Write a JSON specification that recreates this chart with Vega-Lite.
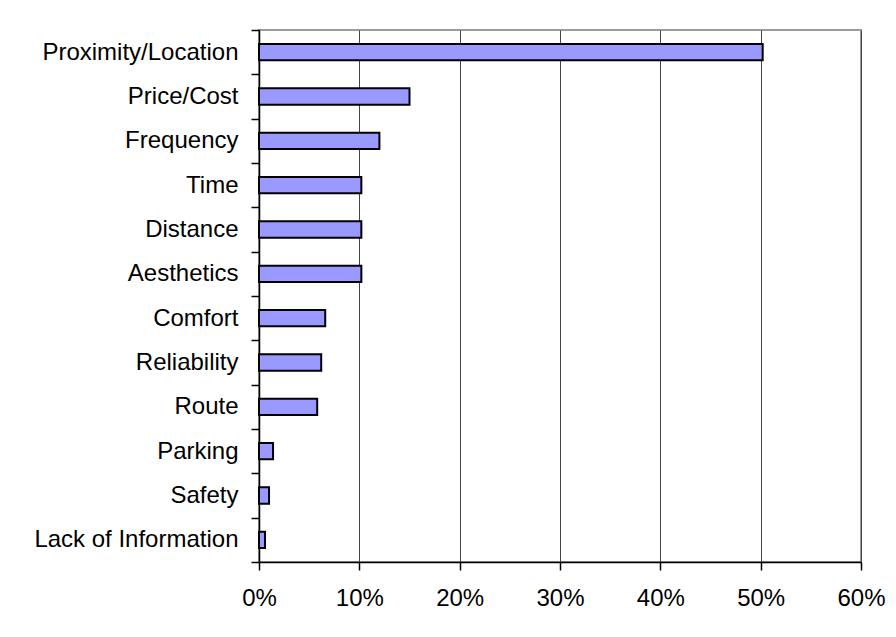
{
  "$schema": "https://vega.github.io/schema/vega-lite/v6.json",
  "description": "Share of respondents citing each factor, horizontal bar chart.",
  "width": 602,
  "height": 532,
  "autosize": {"type": "none"},
  "padding": {"left": 259, "top": 30, "right": 35, "bottom": 75},
  "background": "white",
  "config": {
    "font": "Liberation Sans",
    "view": {"stroke": "#9a9a9a", "strokeWidth": 2}
  },
  "data": {
    "values": [
      {"factor": "Proximity/Location", "share": 0.502},
      {"factor": "Price/Cost", "share": 0.150},
      {"factor": "Frequency", "share": 0.120},
      {"factor": "Time", "share": 0.102},
      {"factor": "Distance", "share": 0.102},
      {"factor": "Aesthetics", "share": 0.102},
      {"factor": "Comfort", "share": 0.066},
      {"factor": "Reliability", "share": 0.062},
      {"factor": "Route", "share": 0.058},
      {"factor": "Parking", "share": 0.014},
      {"factor": "Safety", "share": 0.010},
      {"factor": "Lack of Information", "share": 0.006}
    ]
  },
  "mark": {
    "type": "bar",
    "fill": "#9999ff",
    "stroke": "black",
    "strokeWidth": 2,
    "height": {"band": 0.37}
  },
  "encoding": {
    "y": {
      "field": "factor",
      "type": "nominal",
      "sort": null,
      "scale": {"paddingInner": 0, "paddingOuter": 0},
      "axis": {
        "title": null,
        "grid": false,
        "domainColor": "black",
        "domainWidth": 1.5,
        "tickColor": "black",
        "tickWidth": 1.5,
        "tickSize": 8,
        "tickBand": "extent",
        "labelFontSize": 24,
        "labelColor": "black",
        "labelPadding": 13,
        "labelLimit": 300
      }
    },
    "x": {
      "field": "share",
      "type": "quantitative",
      "scale": {"domain": [0, 0.6], "nice": false},
      "axis": {
        "title": null,
        "format": ".0%",
        "values": [0, 0.1, 0.2, 0.3, 0.4, 0.5, 0.6],
        "grid": true,
        "gridColor": "#444444",
        "gridWidth": 1,
        "domainColor": "black",
        "domainWidth": 1.5,
        "tickColor": "black",
        "tickWidth": 1.5,
        "tickSize": 8,
        "labelFontSize": 24,
        "labelColor": "black",
        "labelPadding": 16,
        "labelFlush": false
      }
    }
  }
}
